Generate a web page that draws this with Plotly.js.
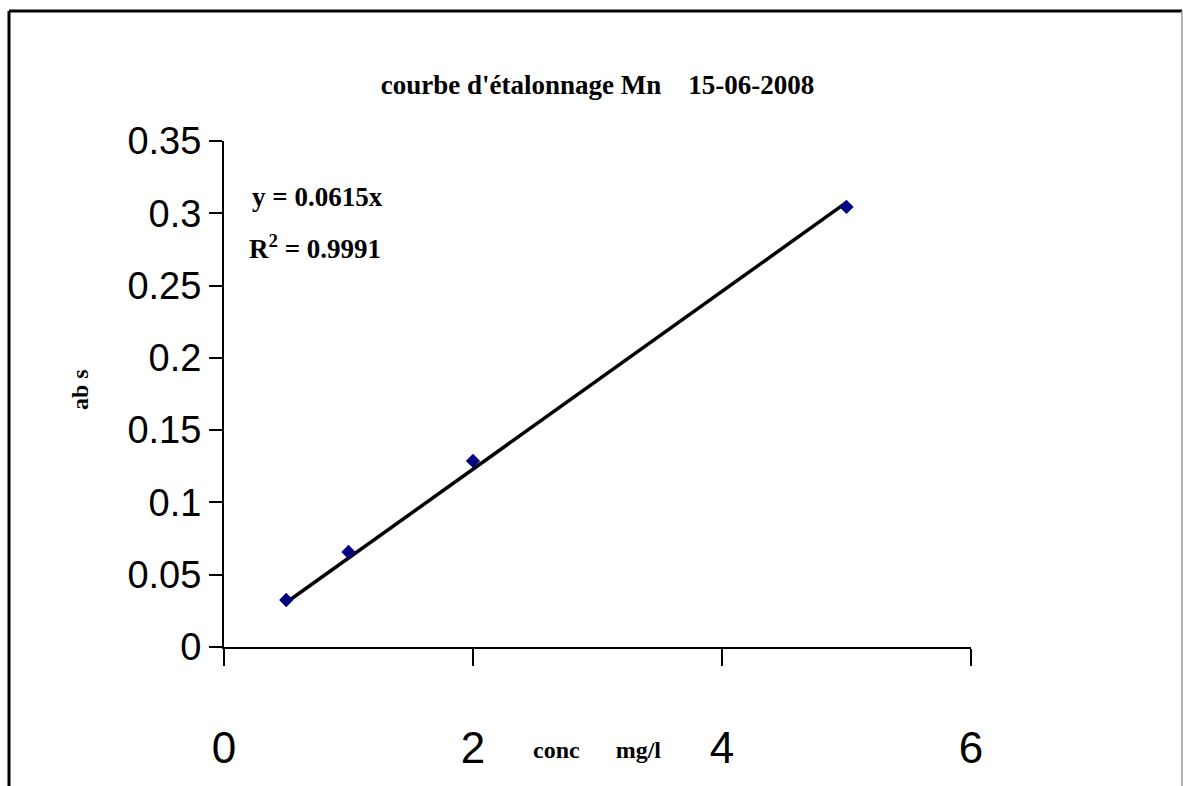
<!DOCTYPE html>
<html>
<head>
<meta charset="utf-8">
<script src="https://cdn.plot.ly/plotly-3.0.1.min.js"></script>
<style>html,body{margin:0;padding:0;background:#fff;}#chart{width:1183px;height:786px;}</style>
</head>
<body>
<div id="chart"></div>
<script>
// Data
const concValues = [0.5, 1, 2, 5];
const absValues = [0.0325, 0.0657, 0.1287, 0.3044];
const trendSlope = 0.0615;
const trendR2 = 0.9991;
const xTickValues = [0, 2, 4, 6];
const yTickValues = [0, 0.05, 0.1, 0.15, 0.2, 0.25, 0.3, 0.35];
const yTickLabels = ["0", "0.05", "0.1", "0.15", "0.2", "0.25", "0.3", "0.35"];

const trendX = [concValues[0], concValues[concValues.length - 1]];
const trendY = trendX.map(x => trendSlope * x);

const serifBold = "Liberation Serif, Times New Roman, serif";
const sansFont = "Liberation Sans, Arial, sans-serif";

const traces = [
  {
    x: trendX, y: trendY, mode: 'lines', type: 'scatter',
    line: {color: '#000000', width: 3.5}, hoverinfo: 'skip', showlegend: false
  },
  {
    x: concValues, y: absValues, mode: 'markers', type: 'scatter',
    marker: {symbol: 'diamond', color: '#000080', size: 11, line: {width: 0}},
    showlegend: false
  }
];

const layout = {
  width: 1183, height: 786,
  margin: {l: 224, r: 212, t: 141, b: 139, pad: 0},
  paper_bgcolor: '#ffffff', plot_bgcolor: '#ffffff',
  showlegend: false,
  title: {
    text: "<b>courbe d'étalonnage Mn &nbsp;&nbsp;&nbsp;15-06-2008</b>",
    font: {family: serifBold, size: 27, color: '#000'},
    x: 0.5, xref: 'paper', xanchor: 'center',
    y: 1 - 85 / 786, yref: 'container', yanchor: 'middle'
  },
  xaxis: {
    range: [0, 6], tickvals: xTickValues, ticktext: xTickValues.map(String),
    showgrid: false, zeroline: false, showline: true, linecolor: '#000', linewidth: 2,
    ticks: 'outside', ticklen: 17, tickwidth: 2, tickcolor: '#000',
    tickfont: {family: sansFont, size: 44, color: '#000'},
    ticklabelstandoff: 44,
    fixedrange: true
  },
  yaxis: {
    range: [0, 0.35], tickvals: yTickValues, ticktext: yTickLabels,
    showgrid: false, zeroline: false, showline: true, linecolor: '#000', linewidth: 2,
    ticks: 'outside', ticklen: 13, tickwidth: 2, tickcolor: '#000',
    tickfont: {family: sansFont, size: 38, color: '#000'},
    ticklabelstandoff: 0,
    fixedrange: true
  },
  annotations: [
    {
      text: "<b>y = 0.0615x</b>", xref: 'paper', yref: 'paper',
      x: (250 - 224) / 747, y: (647 - 197) / 506, xanchor: 'left', yanchor: 'middle',
      showarrow: false, font: {family: serifBold, size: 27, color: '#000'}
    },
    {
      text: "<b>R<sup>2</sup> = " + trendR2.toFixed(4) + "</b>", xref: 'paper', yref: 'paper',
      x: (247 - 224) / 747, y: (647 - 247) / 506, xanchor: 'left', yanchor: 'middle',
      showarrow: false, font: {family: serifBold, size: 27, color: '#000'}
    },
    {
      text: "<b>conc &nbsp;&nbsp;&nbsp;&nbsp;&nbsp;mg/l</b>", xref: 'paper', yref: 'paper',
      x: (597 - 224) / 747, y: (647 - 750) / 506, xanchor: 'center', yanchor: 'middle',
      showarrow: false, font: {family: serifBold, size: 24, color: '#000'}
    },
    {
      text: "<b>ab s</b>", xref: 'paper', yref: 'paper', textangle: -90,
      x: (80 - 224) / 747, y: (647 - 390) / 506, xanchor: 'center', yanchor: 'middle',
      showarrow: false, font: {family: serifBold, size: 24, color: '#000'}
    }
  ],
  shapes: [
    {type: 'line', xref: 'paper', yref: 'paper', x0: (9 - 224) / 747, x1: (9 - 224) / 747, y0: (647 - 11) / 506, y1: (647 - 820) / 506, line: {color: '#000', width: 3}},
    {type: 'line', xref: 'paper', yref: 'paper', x0: (9 - 224) / 747, x1: (1182 - 224) / 747, y0: (647 - 11) / 506, y1: (647 - 11) / 506, line: {color: '#000', width: 3}},
    {type: 'line', xref: 'paper', yref: 'paper', x0: (1182 - 224) / 747, x1: (1182 - 224) / 747, y0: (647 - 11) / 506, y1: (647 - 820) / 506, line: {color: '#999', width: 1.5}}
  ]
};

Plotly.newPlot('chart', traces, layout, {displayModeBar: false, staticPlot: true});
</script>
</body>
</html>
